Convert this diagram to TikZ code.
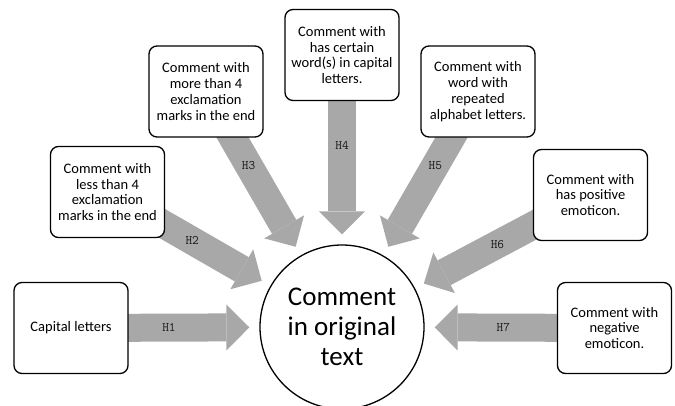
\documentclass[tikz,border=0pt]{standalone}
\usepackage{fontspec}
\setmainfont{Carlito}
\usetikzlibrary{arrows.meta,backgrounds}

\definecolor{arrowgray}{RGB}{168,168,168}

\tikzset{
	hbox/.style={draw, rounded corners=8pt, line width=1.3pt, fill=white,
		minimum width=114pt, minimum height=91pt, inner sep=0pt, align=center,
		font=\fontsize{14.5}{15.8}\selectfont},
	hcircle/.style={circle, draw, line width=1.3pt, fill=white,
		minimum size=164pt, inner sep=0pt, align=center,
		font=\fontsize{27}{30}\selectfont},
	harrow/.style={draw=arrowgray, line width=28pt,
		-{Triangle[width=46pt,length=23pt,line width=0pt]}, shorten >=10pt},
	hlabel/.style={font=\ttfamily\fontsize{13}{13}\selectfont,
		text=black!90, inner sep=0pt},
}

\begin{document}
\begin{tikzpicture}[x=1pt,y=-1pt]

	\useasboundingbox (0,0) rectangle (675,405);

	% ---- centre

	\node[hcircle] (c) at (342,327) {Comment\\in original\\text};

	% ---- boxes

	\node[hbox] (b1) at (71,328) {Capital letters};
	\node[hbox] (b2) at (107.5,192) {Comment with\\less than 4\\exclamation\\marks in the end};
	\node[hbox] (b3) at (206,91.5) {Comment with\\more than 4\\exclamation\\marks in the end};
	\node[hbox] (b4) at (342,55) {Comment with\\has certain\\word(s) in capital\\letters.};
	\node[hbox] (b5) at (478,91.5) {Comment with\\word with\\repeated\\alphabet letters.};
	\node[hbox] (b6) at (590.5,195) {Comment with\\has positive\\emoticon.};
	\node[hbox] (b7) at (614.5,328) {Comment with\\negative\\emoticon.};

	% ---- arrows

	\begin{pgfonlayer}{background}
		\foreach \b/\h/\p in {b1/H1/0.52, b2/H2/0.52, b3/H3/0.45, b4/H4/0.48,
			b5/H5/0.45, b6/H6/0.53, b7/H7/0.585} {
			\draw[harrow] (\b.center) -- (c) node[hlabel, pos=\p] {\h};
		}
	\end{pgfonlayer}

\end{tikzpicture}
\end{document}
